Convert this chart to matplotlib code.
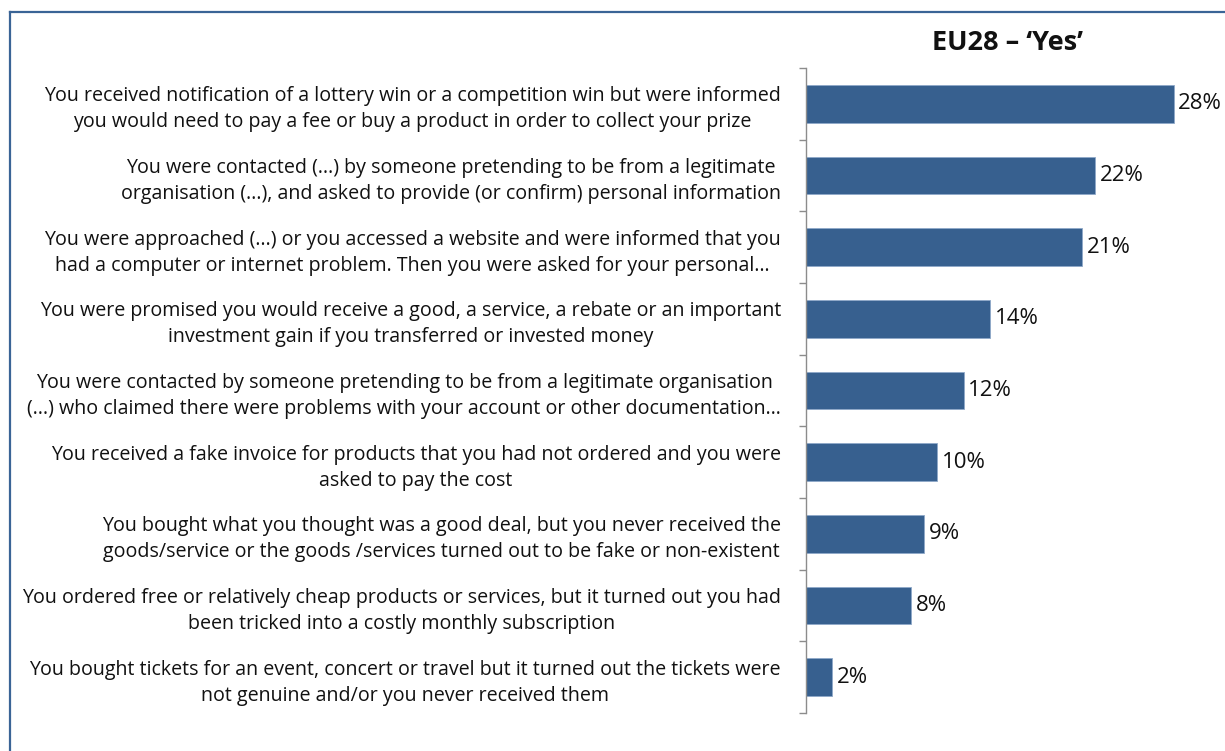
import matplotlib

matplotlib.use("Agg")
import matplotlib.pyplot as plt
from matplotlib.lines import Line2D
import numpy as np

plt.rcParams["font.family"] = ["Open Sans", "DejaVu Sans"]

# survey items, top to bottom
items = [
    "You received notification of a lottery win or a competition win but were informed\n"
    "you would need to pay a fee or buy a product in order to collect your prize",
    "You were contacted (...) by someone pretending to be from a legitimate\n"
    "organisation (...), and asked to provide (or confirm) personal information",
    "You were approached (...) or you accessed a website and were informed that you\n"
    "had a computer or internet problem. Then you were asked for your personal…",
    "You were promised you would receive a good, a service, a rebate or an important\n"
    "investment gain if you transferred or invested money",
    "You were contacted by someone pretending to be from a legitimate organisation\n"
    "(...) who claimed there were problems with your account or other documentation…",
    "You received a fake invoice for products that you had not ordered and you were\n"
    "asked to pay the cost",
    "You bought what you thought was a good deal, but you never received the\n"
    "goods/service or the goods /services turned out to be fake or non-existent",
    "You ordered free or relatively cheap products or services, but it turned out you had\n"
    "been tricked into a costly monthly subscription",
    "You bought tickets for an event, concert or travel but it turned out the tickets were\n"
    "not genuine and/or you never received them",
]
yes_pct = [28, 22, 21, 14, 12, 10, 9, 8, 2]

W, H = 1225, 751
fig = plt.figure(figsize=(W / 100, H / 100), dpi=100, facecolor="white")
ax = fig.add_axes([806 / W, 1 - 713 / H, (1200 - 806) / W, (713 - 68) / H])

y = np.arange(len(items))
ax.barh(y, yes_pct, height=0.53, color="#37608f", edgecolor="#8fa9c9", linewidth=0.6)
for yi, v in zip(y, yes_pct):
    ax.text(v + 0.35, yi, f"{v}%", va="center", ha="left", fontsize=16, color="#111111")

ax.set_xlim(0, 30)
ax.set_ylim(len(items) - 0.5, -0.5)
ax.set_yticks(y)
ax.set_yticklabels(items, fontsize=14.1, color="#111111", multialignment="center",
                   linespacing=1.4)
ax.tick_params(axis="y", which="major", length=0, pad=18)
ax.set_yticks(np.arange(len(items) + 1) - 0.5, minor=True)
ax.tick_params(axis="y", which="minor", length=5, width=1, color="#8c8c8c")
ax.set_xticks([])
for spn in ("top", "right", "bottom"):
    ax.spines[spn].set_visible(False)
ax.spines["left"].set_color("#8c8c8c")
ax.spines["left"].set_linewidth(1)

fig.text(1008 / W, 1 - 43 / H, "EU28 – ‘Yes’", ha="center", va="center",
         fontsize=19.5, fontweight="bold", color="#111111")

# frame around the chart
fig.add_artist(Line2D([10 / W, 1], [1 - 12 / H, 1 - 12 / H], color="#3a6496", lw=1.6,
                      transform=fig.transFigure))
fig.add_artist(Line2D([10 / W, 10 / W], [1 - 12 / H, 0], color="#3a6496", lw=1.6,
                      transform=fig.transFigure))

fig.savefig("out.png", dpi=100)
